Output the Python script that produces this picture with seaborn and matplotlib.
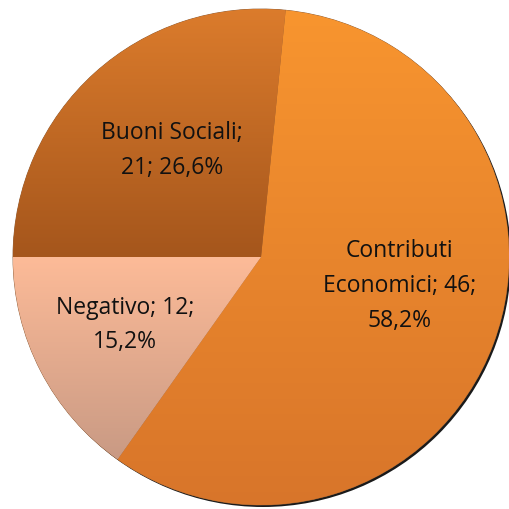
import numpy as np
import matplotlib
matplotlib.use("Agg")
import matplotlib.pyplot as plt
import matplotlib.colors as mcolors
from matplotlib.patches import Circle
import seaborn as sns

# Data
categories = ["Contributi Economici", "Negativo", "Buoni Sociali"]
counts = [46, 12, 21]

# Fill gradients (top colour, bottom colour) for each slice
top_colors = ["#F8952F", "#FDBB98", "#DC7C2C"]
bottom_colors = ["#D8752A", "#C99A84", "#A5561C"]

sns.set_theme(style="white")
plt.rcParams["font.family"] = ["Open Sans", "DejaVu Sans"]

fig = plt.figure(figsize=(5.09, 5.10), dpi=100)
ax = fig.add_axes([0, 0, 1, 1])

R = 248.0  # pie radius in pixels, used for axis scaling

# soft dark edge along the lower right
ax.add_patch(Circle((2.0 / R, -2.0 / R), 1.0, facecolor="#1a1a1a",
                    edgecolor="none", zorder=0))

wedges, _ = ax.pie(counts, startangle=84.3, counterclock=False, radius=1.0,
                   colors=top_colors,
                   wedgeprops=dict(linewidth=0.6, edgecolor="#8a5a35"))

# Vertical gradient inside each wedge
for w, c0, c1 in zip(wedges, top_colors, bottom_colors):
    verts = w.get_path().vertices
    x0, x1 = verts[:, 0].min(), verts[:, 0].max()
    y0, y1 = verts[:, 1].min(), verts[:, 1].max()
    cmap = mcolors.LinearSegmentedColormap.from_list("g", [c1, c0])
    grad = np.linspace(0, 1, 256).reshape(-1, 1)
    im = ax.imshow(grad, cmap=cmap, origin="lower", aspect="auto",
                   extent=(x0, x1, y0, y1), zorder=w.get_zorder() + 0.1,
                   interpolation="bilinear")
    im.set_clip_path(w)

total = sum(counts)
pcts = [f"{100 * v / total:.1f}".replace(".", ",") for v in counts]

label_text = [
    f"Contributi\nEconomici; {counts[0]};\n{pcts[0]}%",
    f"Negativo; {counts[1]};\n{pcts[1]}%",
    f"Buoni Sociali;\n{counts[2]}; {pcts[2]}%",
]
positions = [(0.560, -0.113), (-0.548, -0.27), (-0.359, 0.435)]
for t, (x, y) in zip(label_text, positions):
    ax.text(x, y, t, ha="center", va="center", fontsize=16.5, color="#111111",
            linespacing=1.6, zorder=10)

ax.set_xlim(-261 / R, 248 / R)
ax.set_ylim((258 - 510) / R, 258 / R)
ax.set_aspect("auto")
ax.axis("off")

fig.savefig("out.png", dpi=100)
